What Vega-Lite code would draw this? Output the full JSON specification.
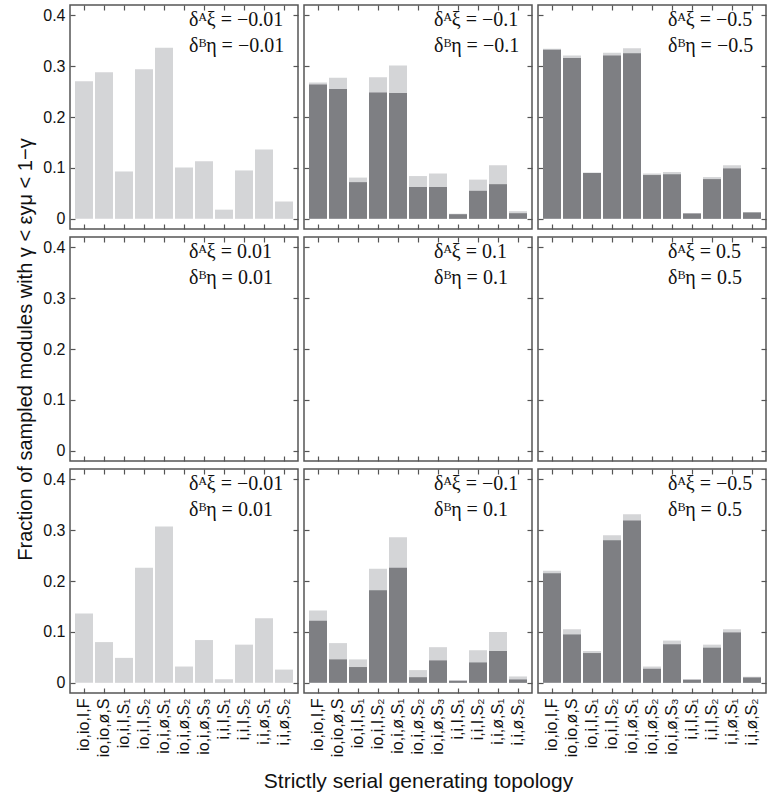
{
  "$schema": "https://vega.github.io/schema/vega-lite/v6.json",
  "background": "white",
  "padding": {"left": 15, "top": 3, "right": 2, "bottom": 5},
  "bounds": "flush",
  "datasets": {
    "bars": [
      {"panel": "a", "topo": "io,io,I,F", "total": 0.270, "sub": null},
      {"panel": "a", "topo": "io,io,ø,S", "total": 0.288, "sub": null},
      {"panel": "a", "topo": "io,i,I,S₁", "total": 0.093, "sub": null},
      {"panel": "a", "topo": "io,i,I,S₂", "total": 0.294, "sub": null},
      {"panel": "a", "topo": "io,i,ø,S₁", "total": 0.336, "sub": null},
      {"panel": "a", "topo": "io,i,ø,S₂", "total": 0.101, "sub": null},
      {"panel": "a", "topo": "io,i,ø,S₃", "total": 0.113, "sub": null},
      {"panel": "a", "topo": "i,i,I,S₁", "total": 0.018, "sub": null},
      {"panel": "a", "topo": "i,i,I,S₂", "total": 0.095, "sub": null},
      {"panel": "a", "topo": "i,i,ø,S₁", "total": 0.136, "sub": null},
      {"panel": "a", "topo": "i,i,ø,S₂", "total": 0.034, "sub": null},
      {"panel": "b", "topo": "io,io,I,F", "total": 0.268, "sub": 0.264},
      {"panel": "b", "topo": "io,io,ø,S", "total": 0.277, "sub": 0.255},
      {"panel": "b", "topo": "io,i,I,S₁", "total": 0.081, "sub": 0.072},
      {"panel": "b", "topo": "io,i,I,S₂", "total": 0.278, "sub": 0.248},
      {"panel": "b", "topo": "io,i,ø,S₁", "total": 0.301, "sub": 0.247},
      {"panel": "b", "topo": "io,i,ø,S₂", "total": 0.084, "sub": 0.0625},
      {"panel": "b", "topo": "io,i,ø,S₃", "total": 0.089, "sub": 0.0625},
      {"panel": "b", "topo": "i,i,I,S₁", "total": 0.010, "sub": 0.009},
      {"panel": "b", "topo": "i,i,I,S₂", "total": 0.077, "sub": 0.055},
      {"panel": "b", "topo": "i,i,ø,S₁", "total": 0.105, "sub": 0.068},
      {"panel": "b", "topo": "i,i,ø,S₂", "total": 0.015, "sub": 0.011},
      {"panel": "c", "topo": "io,io,I,F", "total": 0.334, "sub": 0.332},
      {"panel": "c", "topo": "io,io,ø,S", "total": 0.321, "sub": 0.316},
      {"panel": "c", "topo": "io,i,I,S₁", "total": 0.091, "sub": 0.090},
      {"panel": "c", "topo": "io,i,I,S₂", "total": 0.326, "sub": 0.321},
      {"panel": "c", "topo": "io,i,ø,S₁", "total": 0.335, "sub": 0.325},
      {"panel": "c", "topo": "io,i,ø,S₂", "total": 0.089, "sub": 0.086},
      {"panel": "c", "topo": "io,i,ø,S₃", "total": 0.092, "sub": 0.0875},
      {"panel": "c", "topo": "i,i,I,S₁", "total": 0.011, "sub": 0.0105},
      {"panel": "c", "topo": "i,i,I,S₂", "total": 0.082, "sub": 0.078},
      {"panel": "c", "topo": "i,i,ø,S₁", "total": 0.105, "sub": 0.099},
      {"panel": "c", "topo": "i,i,ø,S₂", "total": 0.013, "sub": 0.0125},
      {"panel": "g", "topo": "io,io,I,F", "total": 0.136, "sub": null},
      {"panel": "g", "topo": "io,io,ø,S", "total": 0.080, "sub": null},
      {"panel": "g", "topo": "io,i,I,S₁", "total": 0.049, "sub": null},
      {"panel": "g", "topo": "io,i,I,S₂", "total": 0.226, "sub": null},
      {"panel": "g", "topo": "io,i,ø,S₁", "total": 0.307, "sub": null},
      {"panel": "g", "topo": "io,i,ø,S₂", "total": 0.032, "sub": null},
      {"panel": "g", "topo": "io,i,ø,S₃", "total": 0.084, "sub": null},
      {"panel": "g", "topo": "i,i,I,S₁", "total": 0.007, "sub": null},
      {"panel": "g", "topo": "i,i,I,S₂", "total": 0.075, "sub": null},
      {"panel": "g", "topo": "i,i,ø,S₁", "total": 0.127, "sub": null},
      {"panel": "g", "topo": "i,i,ø,S₂", "total": 0.026, "sub": null},
      {"panel": "h", "topo": "io,io,I,F", "total": 0.142, "sub": 0.122},
      {"panel": "h", "topo": "io,io,ø,S", "total": 0.078, "sub": 0.046},
      {"panel": "h", "topo": "io,i,I,S₁", "total": 0.046, "sub": 0.031},
      {"panel": "h", "topo": "io,i,I,S₂", "total": 0.224, "sub": 0.182},
      {"panel": "h", "topo": "io,i,ø,S₁", "total": 0.286, "sub": 0.226},
      {"panel": "h", "topo": "io,i,ø,S₂", "total": 0.025, "sub": 0.011},
      {"panel": "h", "topo": "io,i,ø,S₃", "total": 0.070, "sub": 0.044},
      {"panel": "h", "topo": "i,i,I,S₁", "total": 0.005, "sub": 0.004},
      {"panel": "h", "topo": "i,i,I,S₂", "total": 0.064, "sub": 0.040},
      {"panel": "h", "topo": "i,i,ø,S₁", "total": 0.100, "sub": 0.0625},
      {"panel": "h", "topo": "i,i,ø,S₂", "total": 0.0125, "sub": 0.0066},
      {"panel": "i", "topo": "io,io,I,F", "total": 0.220, "sub": 0.215},
      {"panel": "i", "topo": "io,io,ø,S", "total": 0.105, "sub": 0.095},
      {"panel": "i", "topo": "io,i,I,S₁", "total": 0.0625, "sub": 0.0585},
      {"panel": "i", "topo": "io,i,I,S₂", "total": 0.290, "sub": 0.280},
      {"panel": "i", "topo": "io,i,ø,S₁", "total": 0.331, "sub": 0.319},
      {"panel": "i", "topo": "io,i,ø,S₂", "total": 0.032, "sub": 0.0276},
      {"panel": "i", "topo": "io,i,ø,S₃", "total": 0.083, "sub": 0.0757},
      {"panel": "i", "topo": "i,i,I,S₁", "total": 0.007, "sub": 0.006},
      {"panel": "i", "topo": "i,i,I,S₂", "total": 0.075, "sub": 0.069},
      {"panel": "i", "topo": "i,i,ø,S₁", "total": 0.105, "sub": 0.099},
      {"panel": "i", "topo": "i,i,ø,S₂", "total": 0.012, "sub": 0.0105}
    ],
    "labels": [
      {"panel": "a", "label": "δᴬξ = −0.01\nδᴮη = −0.01"},
      {"panel": "b", "label": "δᴬξ = −0.1\nδᴮη = −0.1"},
      {"panel": "c", "label": "δᴬξ = −0.5\nδᴮη = −0.5"},
      {"panel": "d", "label": "δᴬξ = 0.01\nδᴮη = 0.01"},
      {"panel": "e", "label": "δᴬξ = 0.1\nδᴮη = 0.1"},
      {"panel": "f", "label": "δᴬξ = 0.5\nδᴮη = 0.5"},
      {"panel": "g", "label": "δᴬξ = −0.01\nδᴮη = 0.01"},
      {"panel": "h", "label": "δᴬξ = −0.1\nδᴮη = 0.1"},
      {"panel": "i", "label": "δᴬξ = −0.5\nδᴮη = 0.5"}
    ]
  },
  "columns": 3,
  "spacing": {"row": 8, "column": 6},
  "concat": [
    {
      "width": 228, "height": 224,
      "layer": [
        {"data": {"name": "bars"}, "transform": [{"filter": "datum.panel == 'a'"}],
         "mark": {"type": "bar", "color": "#d4d5d7"},
         "encoding": {
           "x": {"field": "topo", "type": "nominal", "scale": {"domain": ["io,io,I,F","io,io,ø,S","io,i,I,S₁","io,i,I,S₂","io,i,ø,S₁","io,i,ø,S₂","io,i,ø,S₃","i,i,I,S₁","i,i,I,S₂","i,i,ø,S₁","i,i,ø,S₂"], "paddingInner": 0.1, "paddingOuter": 0.25}, "axis": {"orient": "bottom", "labels": false, "title": null}},
           "y": {"field": "total", "type": "quantitative", "scale": {"domain": [-0.02, 0.42], "nice": false, "zero": false}, "axis": {"orient": "left", "values": [0, 0.1, 0.2, 0.3, 0.4], "format": "~g", "title": null}}
         }},
        {"data": {"name": "bars"}, "transform": [{"filter": "datum.panel == 'a'"}],
         "mark": {"type": "bar", "color": "#7e7f83"},
         "encoding": {
           "x": {"field": "topo", "type": "nominal", "axis": {"orient": "top", "labels": false, "title": null}},
           "y": {"field": "sub", "type": "quantitative", "axis": {"orient": "right", "labels": false, "values": [0, 0.1, 0.2, 0.3, 0.4], "title": null}}
         }},
        {"data": {"name": "labels"}, "transform": [{"filter": "datum.panel == 'a'"}],
         "mark": {"type": "text", "align": "left", "baseline": "top", "font": "Liberation Serif", "fontSize": 20, "lineBreak": "\n", "lineHeight": 26, "dx": 5, "color": "#111"},
         "encoding": {"x": {"datum": "io,i,ø,S₂", "type": "nominal", "axis": null}, "y": {"datum": 0.41, "type": "quantitative", "axis": null}, "text": {"field": "label"}}}
      ],
      "resolve": {"axis": {"x": "independent", "y": "independent"}}
    },
    {
      "width": 228, "height": 224,
      "layer": [
        {"data": {"name": "bars"}, "transform": [{"filter": "datum.panel == 'b'"}],
         "mark": {"type": "bar", "color": "#d4d5d7"},
         "encoding": {
           "x": {"field": "topo", "type": "nominal", "scale": {"domain": ["io,io,I,F","io,io,ø,S","io,i,I,S₁","io,i,I,S₂","io,i,ø,S₁","io,i,ø,S₂","io,i,ø,S₃","i,i,I,S₁","i,i,I,S₂","i,i,ø,S₁","i,i,ø,S₂"], "paddingInner": 0.1, "paddingOuter": 0.25}, "axis": {"orient": "bottom", "labels": false, "title": null}},
           "y": {"field": "total", "type": "quantitative", "scale": {"domain": [-0.02, 0.42], "nice": false, "zero": false}, "axis": {"orient": "left", "labels": false, "values": [0, 0.1, 0.2, 0.3, 0.4], "title": null}}
         }},
        {"data": {"name": "bars"}, "transform": [{"filter": "datum.panel == 'b'"}],
         "mark": {"type": "bar", "color": "#7e7f83"},
         "encoding": {
           "x": {"field": "topo", "type": "nominal", "axis": {"orient": "top", "labels": false, "title": null}},
           "y": {"field": "sub", "type": "quantitative", "axis": {"orient": "right", "labels": false, "values": [0, 0.1, 0.2, 0.3, 0.4], "title": null}}
         }},
        {"data": {"name": "labels"}, "transform": [{"filter": "datum.panel == 'b'"}],
         "mark": {"type": "text", "align": "left", "baseline": "top", "font": "Liberation Serif", "fontSize": 20, "lineBreak": "\n", "lineHeight": 26, "dx": 16, "color": "#111"},
         "encoding": {"x": {"datum": "io,i,ø,S₂", "type": "nominal", "axis": null}, "y": {"datum": 0.41, "type": "quantitative", "axis": null}, "text": {"field": "label"}}}
      ],
      "resolve": {"axis": {"x": "independent", "y": "independent"}}
    },
    {
      "width": 228, "height": 224,
      "layer": [
        {"data": {"name": "bars"}, "transform": [{"filter": "datum.panel == 'c'"}],
         "mark": {"type": "bar", "color": "#d4d5d7"},
         "encoding": {
           "x": {"field": "topo", "type": "nominal", "scale": {"domain": ["io,io,I,F","io,io,ø,S","io,i,I,S₁","io,i,I,S₂","io,i,ø,S₁","io,i,ø,S₂","io,i,ø,S₃","i,i,I,S₁","i,i,I,S₂","i,i,ø,S₁","i,i,ø,S₂"], "paddingInner": 0.1, "paddingOuter": 0.25}, "axis": {"orient": "bottom", "labels": false, "title": null}},
           "y": {"field": "total", "type": "quantitative", "scale": {"domain": [-0.02, 0.42], "nice": false, "zero": false}, "axis": {"orient": "left", "labels": false, "values": [0, 0.1, 0.2, 0.3, 0.4], "title": null}}
         }},
        {"data": {"name": "bars"}, "transform": [{"filter": "datum.panel == 'c'"}],
         "mark": {"type": "bar", "color": "#7e7f83"},
         "encoding": {
           "x": {"field": "topo", "type": "nominal", "axis": {"orient": "top", "labels": false, "title": null}},
           "y": {"field": "sub", "type": "quantitative", "axis": {"orient": "right", "labels": false, "values": [0, 0.1, 0.2, 0.3, 0.4], "title": null}}
         }},
        {"data": {"name": "labels"}, "transform": [{"filter": "datum.panel == 'c'"}],
         "mark": {"type": "text", "align": "left", "baseline": "top", "font": "Liberation Serif", "fontSize": 20, "lineBreak": "\n", "lineHeight": 26, "dx": 16, "color": "#111"},
         "encoding": {"x": {"datum": "io,i,ø,S₂", "type": "nominal", "axis": null}, "y": {"datum": 0.41, "type": "quantitative", "axis": null}, "text": {"field": "label"}}}
      ],
      "resolve": {"axis": {"x": "independent", "y": "independent"}}
    },
    {
      "width": 228, "height": 224,
      "layer": [
        {"data": {"name": "bars"}, "transform": [{"filter": "datum.panel == 'd'"}],
         "mark": {"type": "bar", "color": "#d4d5d7"},
         "encoding": {
           "x": {"field": "topo", "type": "nominal", "scale": {"domain": ["io,io,I,F","io,io,ø,S","io,i,I,S₁","io,i,I,S₂","io,i,ø,S₁","io,i,ø,S₂","io,i,ø,S₃","i,i,I,S₁","i,i,I,S₂","i,i,ø,S₁","i,i,ø,S₂"], "paddingInner": 0.1, "paddingOuter": 0.25}, "axis": {"orient": "bottom", "labels": false, "title": null}},
           "y": {"field": "total", "type": "quantitative", "scale": {"domain": [-0.02, 0.42], "nice": false, "zero": false}, "axis": {"orient": "left", "values": [0, 0.1, 0.2, 0.3, 0.4], "format": "~g", "title": "Fraction of sampled modules with γ < εyμ < 1−γ"}}
         }},
        {"data": {"name": "bars"}, "transform": [{"filter": "datum.panel == 'd'"}],
         "mark": {"type": "bar", "color": "#7e7f83"},
         "encoding": {
           "x": {"field": "topo", "type": "nominal", "axis": {"orient": "top", "labels": false, "title": null}},
           "y": {"field": "sub", "type": "quantitative", "axis": {"orient": "right", "labels": false, "values": [0, 0.1, 0.2, 0.3, 0.4], "title": null}}
         }},
        {"data": {"name": "labels"}, "transform": [{"filter": "datum.panel == 'd'"}],
         "mark": {"type": "text", "align": "left", "baseline": "top", "font": "Liberation Serif", "fontSize": 20, "lineBreak": "\n", "lineHeight": 26, "dx": 5, "color": "#111"},
         "encoding": {"x": {"datum": "io,i,ø,S₂", "type": "nominal", "axis": null}, "y": {"datum": 0.41, "type": "quantitative", "axis": null}, "text": {"field": "label"}}}
      ],
      "resolve": {"axis": {"x": "independent", "y": "independent"}}
    },
    {
      "width": 228, "height": 224,
      "layer": [
        {"data": {"name": "bars"}, "transform": [{"filter": "datum.panel == 'e'"}],
         "mark": {"type": "bar", "color": "#d4d5d7"},
         "encoding": {
           "x": {"field": "topo", "type": "nominal", "scale": {"domain": ["io,io,I,F","io,io,ø,S","io,i,I,S₁","io,i,I,S₂","io,i,ø,S₁","io,i,ø,S₂","io,i,ø,S₃","i,i,I,S₁","i,i,I,S₂","i,i,ø,S₁","i,i,ø,S₂"], "paddingInner": 0.1, "paddingOuter": 0.25}, "axis": {"orient": "bottom", "labels": false, "title": null}},
           "y": {"field": "total", "type": "quantitative", "scale": {"domain": [-0.02, 0.42], "nice": false, "zero": false}, "axis": {"orient": "left", "labels": false, "values": [0, 0.1, 0.2, 0.3, 0.4], "title": null}}
         }},
        {"data": {"name": "bars"}, "transform": [{"filter": "datum.panel == 'e'"}],
         "mark": {"type": "bar", "color": "#7e7f83"},
         "encoding": {
           "x": {"field": "topo", "type": "nominal", "axis": {"orient": "top", "labels": false, "title": null}},
           "y": {"field": "sub", "type": "quantitative", "axis": {"orient": "right", "labels": false, "values": [0, 0.1, 0.2, 0.3, 0.4], "title": null}}
         }},
        {"data": {"name": "labels"}, "transform": [{"filter": "datum.panel == 'e'"}],
         "mark": {"type": "text", "align": "left", "baseline": "top", "font": "Liberation Serif", "fontSize": 20, "lineBreak": "\n", "lineHeight": 26, "dx": 16, "color": "#111"},
         "encoding": {"x": {"datum": "io,i,ø,S₂", "type": "nominal", "axis": null}, "y": {"datum": 0.41, "type": "quantitative", "axis": null}, "text": {"field": "label"}}}
      ],
      "resolve": {"axis": {"x": "independent", "y": "independent"}}
    },
    {
      "width": 228, "height": 224,
      "layer": [
        {"data": {"name": "bars"}, "transform": [{"filter": "datum.panel == 'f'"}],
         "mark": {"type": "bar", "color": "#d4d5d7"},
         "encoding": {
           "x": {"field": "topo", "type": "nominal", "scale": {"domain": ["io,io,I,F","io,io,ø,S","io,i,I,S₁","io,i,I,S₂","io,i,ø,S₁","io,i,ø,S₂","io,i,ø,S₃","i,i,I,S₁","i,i,I,S₂","i,i,ø,S₁","i,i,ø,S₂"], "paddingInner": 0.1, "paddingOuter": 0.25}, "axis": {"orient": "bottom", "labels": false, "title": null}},
           "y": {"field": "total", "type": "quantitative", "scale": {"domain": [-0.02, 0.42], "nice": false, "zero": false}, "axis": {"orient": "left", "labels": false, "values": [0, 0.1, 0.2, 0.3, 0.4], "title": null}}
         }},
        {"data": {"name": "bars"}, "transform": [{"filter": "datum.panel == 'f'"}],
         "mark": {"type": "bar", "color": "#7e7f83"},
         "encoding": {
           "x": {"field": "topo", "type": "nominal", "axis": {"orient": "top", "labels": false, "title": null}},
           "y": {"field": "sub", "type": "quantitative", "axis": {"orient": "right", "labels": false, "values": [0, 0.1, 0.2, 0.3, 0.4], "title": null}}
         }},
        {"data": {"name": "labels"}, "transform": [{"filter": "datum.panel == 'f'"}],
         "mark": {"type": "text", "align": "left", "baseline": "top", "font": "Liberation Serif", "fontSize": 20, "lineBreak": "\n", "lineHeight": 26, "dx": 16, "color": "#111"},
         "encoding": {"x": {"datum": "io,i,ø,S₂", "type": "nominal", "axis": null}, "y": {"datum": 0.41, "type": "quantitative", "axis": null}, "text": {"field": "label"}}}
      ],
      "resolve": {"axis": {"x": "independent", "y": "independent"}}
    },
    {
      "width": 228, "height": 224,
      "layer": [
        {"data": {"name": "bars"}, "transform": [{"filter": "datum.panel == 'g'"}],
         "mark": {"type": "bar", "color": "#d4d5d7"},
         "encoding": {
           "x": {"field": "topo", "type": "nominal", "scale": {"domain": ["io,io,I,F","io,io,ø,S","io,i,I,S₁","io,i,I,S₂","io,i,ø,S₁","io,i,ø,S₂","io,i,ø,S₃","i,i,I,S₁","i,i,I,S₂","i,i,ø,S₁","i,i,ø,S₂"], "paddingInner": 0.1, "paddingOuter": 0.25}, "axis": {"orient": "bottom", "labelAngle": -90, "title": null}},
           "y": {"field": "total", "type": "quantitative", "scale": {"domain": [-0.02, 0.42], "nice": false, "zero": false}, "axis": {"orient": "left", "values": [0, 0.1, 0.2, 0.3, 0.4], "format": "~g", "title": null}}
         }},
        {"data": {"name": "bars"}, "transform": [{"filter": "datum.panel == 'g'"}],
         "mark": {"type": "bar", "color": "#7e7f83"},
         "encoding": {
           "x": {"field": "topo", "type": "nominal", "axis": {"orient": "top", "labels": false, "title": null}},
           "y": {"field": "sub", "type": "quantitative", "axis": {"orient": "right", "labels": false, "values": [0, 0.1, 0.2, 0.3, 0.4], "title": null}}
         }},
        {"data": {"name": "labels"}, "transform": [{"filter": "datum.panel == 'g'"}],
         "mark": {"type": "text", "align": "left", "baseline": "top", "font": "Liberation Serif", "fontSize": 20, "lineBreak": "\n", "lineHeight": 26, "dx": 5, "color": "#111"},
         "encoding": {"x": {"datum": "io,i,ø,S₂", "type": "nominal", "axis": null}, "y": {"datum": 0.41, "type": "quantitative", "axis": null}, "text": {"field": "label"}}}
      ],
      "resolve": {"axis": {"x": "independent", "y": "independent"}}
    },
    {
      "width": 228, "height": 224,
      "layer": [
        {"data": {"name": "bars"}, "transform": [{"filter": "datum.panel == 'h'"}],
         "mark": {"type": "bar", "color": "#d4d5d7"},
         "encoding": {
           "x": {"field": "topo", "type": "nominal", "scale": {"domain": ["io,io,I,F","io,io,ø,S","io,i,I,S₁","io,i,I,S₂","io,i,ø,S₁","io,i,ø,S₂","io,i,ø,S₃","i,i,I,S₁","i,i,I,S₂","i,i,ø,S₁","i,i,ø,S₂"], "paddingInner": 0.1, "paddingOuter": 0.25}, "axis": {"orient": "bottom", "labelAngle": -90, "title": "Strictly serial generating topology", "titleFontSize": 21}},
           "y": {"field": "total", "type": "quantitative", "scale": {"domain": [-0.02, 0.42], "nice": false, "zero": false}, "axis": {"orient": "left", "labels": false, "values": [0, 0.1, 0.2, 0.3, 0.4], "title": null}}
         }},
        {"data": {"name": "bars"}, "transform": [{"filter": "datum.panel == 'h'"}],
         "mark": {"type": "bar", "color": "#7e7f83"},
         "encoding": {
           "x": {"field": "topo", "type": "nominal", "axis": {"orient": "top", "labels": false, "title": null}},
           "y": {"field": "sub", "type": "quantitative", "axis": {"orient": "right", "labels": false, "values": [0, 0.1, 0.2, 0.3, 0.4], "title": null}}
         }},
        {"data": {"name": "labels"}, "transform": [{"filter": "datum.panel == 'h'"}],
         "mark": {"type": "text", "align": "left", "baseline": "top", "font": "Liberation Serif", "fontSize": 20, "lineBreak": "\n", "lineHeight": 26, "dx": 16, "color": "#111"},
         "encoding": {"x": {"datum": "io,i,ø,S₂", "type": "nominal", "axis": null}, "y": {"datum": 0.41, "type": "quantitative", "axis": null}, "text": {"field": "label"}}}
      ],
      "resolve": {"axis": {"x": "independent", "y": "independent"}}
    },
    {
      "width": 228, "height": 224,
      "layer": [
        {"data": {"name": "bars"}, "transform": [{"filter": "datum.panel == 'i'"}],
         "mark": {"type": "bar", "color": "#d4d5d7"},
         "encoding": {
           "x": {"field": "topo", "type": "nominal", "scale": {"domain": ["io,io,I,F","io,io,ø,S","io,i,I,S₁","io,i,I,S₂","io,i,ø,S₁","io,i,ø,S₂","io,i,ø,S₃","i,i,I,S₁","i,i,I,S₂","i,i,ø,S₁","i,i,ø,S₂"], "paddingInner": 0.1, "paddingOuter": 0.25}, "axis": {"orient": "bottom", "labelAngle": -90, "title": null}},
           "y": {"field": "total", "type": "quantitative", "scale": {"domain": [-0.02, 0.42], "nice": false, "zero": false}, "axis": {"orient": "left", "labels": false, "values": [0, 0.1, 0.2, 0.3, 0.4], "title": null}}
         }},
        {"data": {"name": "bars"}, "transform": [{"filter": "datum.panel == 'i'"}],
         "mark": {"type": "bar", "color": "#7e7f83"},
         "encoding": {
           "x": {"field": "topo", "type": "nominal", "axis": {"orient": "top", "labels": false, "title": null}},
           "y": {"field": "sub", "type": "quantitative", "axis": {"orient": "right", "labels": false, "values": [0, 0.1, 0.2, 0.3, 0.4], "title": null}}
         }},
        {"data": {"name": "labels"}, "transform": [{"filter": "datum.panel == 'i'"}],
         "mark": {"type": "text", "align": "left", "baseline": "top", "font": "Liberation Serif", "fontSize": 20, "lineBreak": "\n", "lineHeight": 26, "dx": 16, "color": "#111"},
         "encoding": {"x": {"datum": "io,i,ø,S₂", "type": "nominal", "axis": null}, "y": {"datum": 0.41, "type": "quantitative", "axis": null}, "text": {"field": "label"}}}
      ],
      "resolve": {"axis": {"x": "independent", "y": "independent"}}
    }
  ],
  "config": {
    "view": {"stroke": "#555555", "strokeWidth": 1.5},
    "axis": {
      "domain": false, "grid": false,
      "ticks": true, "tickSize": -5, "tickColor": "#555555", "tickWidth": 1.2,
      "labelFont": "Liberation Sans", "labelFontSize": 16, "labelColor": "#111111",
      "titleFont": "Liberation Sans", "titleFontSize": 20, "titleFontWeight": "normal", "titleColor": "#111111"
    },
    "axisY": {"labelPadding": 10, "titlePadding": 7},
    "axisX": {"labelPadding": 10, "titlePadding": 14}
  }
}
